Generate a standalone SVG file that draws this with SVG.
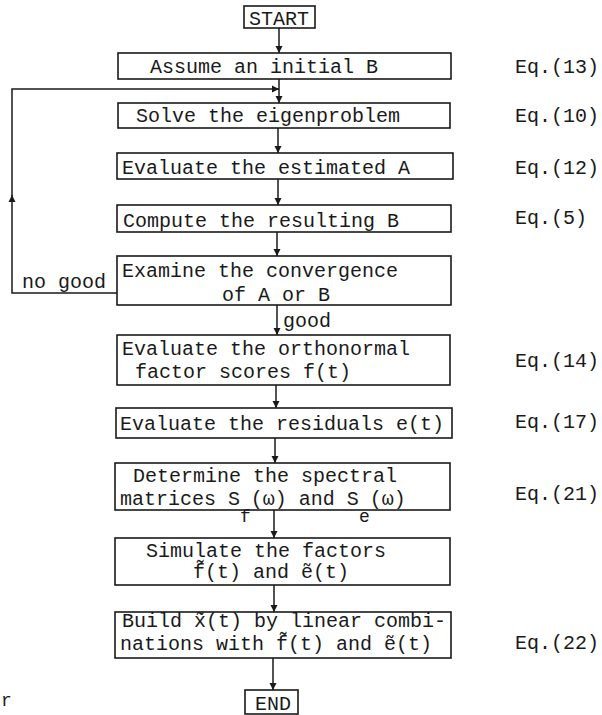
<svg xmlns="http://www.w3.org/2000/svg" width="602" height="715" viewBox="0 0 602 715">
<defs>
<marker id="ah" markerWidth="8" markerHeight="10" refX="7" refY="5" orient="auto" markerUnits="userSpaceOnUse">
<path d="M0,1.5 L7,5 L0,8.5 Z" fill="#1a1a1a"/>
</marker>
<style>
.box{fill:none;stroke:#1a1a1a;stroke-width:1.6}
.t{font-family:"Liberation Mono","DejaVu Sans Mono",monospace;font-size:20px;fill:#1a1a1a}
.s{font-family:"Liberation Mono","DejaVu Sans Mono",monospace;font-size:18px;fill:#1a1a1a}
.c{fill:none;stroke:#1a1a1a;stroke-width:1.5}
</style>
</defs>
<rect width="602" height="715" fill="#fff"/>
<g id="connectors">
<line class="c" x1="279" y1="28" x2="279" y2="53" marker-end="url(#ah)"/>
<line class="c" x1="279" y1="79" x2="279" y2="103" marker-end="url(#ah)"/>
<line class="c" x1="278" y1="128" x2="278" y2="153" marker-end="url(#ah)"/>
<line class="c" x1="278" y1="179" x2="278" y2="205" marker-end="url(#ah)"/>
<line class="c" x1="277" y1="232" x2="277" y2="256" marker-end="url(#ah)"/>
<line class="c" x1="277" y1="305" x2="277" y2="335" marker-end="url(#ah)"/>
<line class="c" x1="276" y1="385" x2="276" y2="408" marker-end="url(#ah)"/>
<line class="c" x1="275" y1="438" x2="275" y2="463" marker-end="url(#ah)"/>
<line class="c" x1="274" y1="510" x2="274" y2="538" marker-end="url(#ah)"/>
<line class="c" x1="274" y1="585" x2="274" y2="612" marker-end="url(#ah)"/>
<line class="c" x1="273" y1="658" x2="273" y2="690" marker-end="url(#ah)"/>
<polyline class="c" points="117,293 12,293 12,195" marker-end="url(#ah)"/>
<polyline class="c" points="12,196 12,89 279,89" marker-end="url(#ah)"/>
<text class="t" x="22" y="288">no good</text>
<text class="t" x="283" y="327">good</text>
</g>
<g id="start"><rect class="box" x="244" y="6" width="71" height="22"/><text class="t" x="249" y="25">START</text></g>
<g id="assume"><rect class="box" x="118" y="53" width="333" height="26"/><text class="t" x="150" y="73">Assume an initial B</text></g>
<g id="solve"><rect class="box" x="118" y="103" width="332" height="25"/><text class="t" x="136" y="122">Solve the eigenproblem</text></g>
<g id="evalA"><rect class="box" x="117" y="153" width="336" height="26"/><text class="t" x="122" y="174">Evaluate the estimated A</text></g>
<g id="computeB"><rect class="box" x="117" y="205" width="334" height="27"/><text class="t" x="123" y="227">Compute the resulting B</text></g>
<g id="examine"><rect class="box" x="117" y="256" width="334" height="49"/><text class="t" x="122" y="277">Examine the convergence</text><text class="t" x="222" y="301">of A or B</text></g>
<g id="ortho"><rect class="box" x="117" y="335" width="333" height="50"/><text class="t" x="122" y="355">Evaluate the orthonormal</text><text class="t" x="135" y="378">factor scores f(t)</text></g>
<g id="resid"><rect class="box" x="116" y="408" width="336" height="30"/><text class="t" x="120" y="430">Evaluate the residuals e(t)</text></g>
<g id="spectral"><rect class="box" x="115" y="463" width="335" height="47"/><text class="t" x="133" y="482">Determine the spectral</text><text class="t" x="120" y="505">matrices S<tspan class="s" dy="17">f</tspan><tspan dy="-17">(ω) and S</tspan><tspan class="s" dy="17">e</tspan><tspan dy="-17">(ω)</tspan></text></g>
<g id="simulate"><rect class="box" x="115" y="538" width="335" height="47"/><text class="t" x="146" y="557">Simulate the factors</text><text class="t" x="193" y="578">f̃(t) and ẽ(t)</text></g>
<g id="build"><rect class="box" x="115" y="612" width="336" height="46"/><text class="t" x="122" y="627">Build x̃(t) by linear combi-</text><text class="t" x="120" y="650">nations with f̃(t) and ẽ(t)</text></g>
<g id="end"><rect class="box" x="245" y="690" width="53" height="24"/><text class="t" x="255" y="710">END</text></g>
<g id="eqs">
<text class="t" x="515" y="73">Eq.(13)</text>
<text class="t" x="515" y="122">Eq.(10)</text>
<text class="t" x="515" y="174">Eq.(12)</text>
<text class="t" x="515" y="224">Eq.(5)</text>
<text class="t" x="515" y="367">Eq.(14)</text>
<text class="t" x="515" y="428">Eq.(17)</text>
<text class="t" x="515" y="500">Eq.(21)</text>
<text class="t" x="515" y="649">Eq.(22)</text>
</g>
<text class="s" x="1" y="706">r</text>
</svg>
